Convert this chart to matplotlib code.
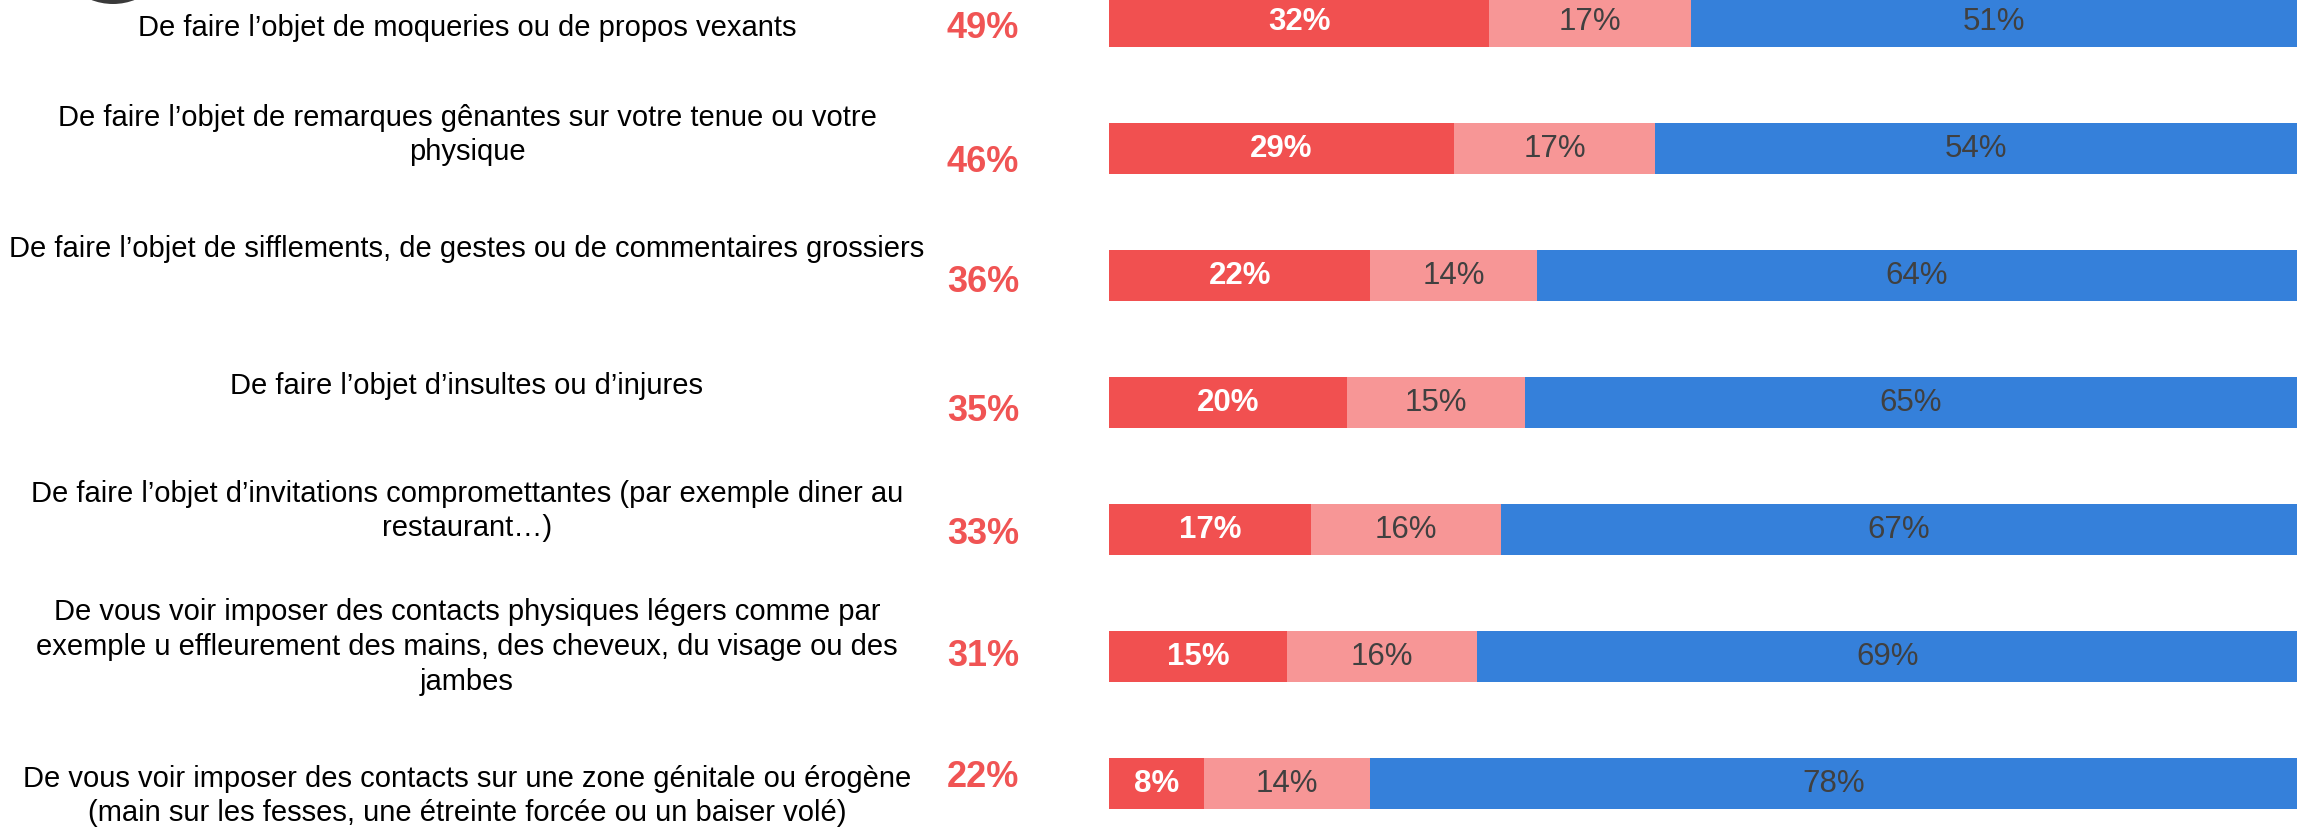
import matplotlib
matplotlib.use("Agg")
import matplotlib.pyplot as plt
from matplotlib.patches import Ellipse
import numpy as np

labels = [
    "De faire l’objet de moqueries ou de propos vexants",
    "De faire l’objet de remarques gênantes sur votre tenue ou votre\nphysique",
    "De faire l’objet de sifflements, de gestes ou de commentaires grossiers",
    "De faire l’objet d’insultes ou d’injures",
    "De faire l’objet d’invitations compromettantes (par exemple diner au\nrestaurant…)",
    "De vous voir imposer des contacts physiques légers comme par\nexemple u effleurement des mains, des cheveux, du visage ou des\njambes",
    "De vous voir imposer des contacts sur une zone génitale ou érogène\n(main sur les fesses, une étreinte forcée ou un baiser volé)",
]
total = [49, 46, 36, 35, 33, 31, 22]
often = [32, 29, 22, 20, 17, 15, 8]
sometimes = [17, 17, 14, 15, 16, 16, 14]
never = [51, 54, 64, 65, 67, 69, 78]

c_often = "#F15050"
c_some = "#F79696"
c_never = "#3580DA"
c_total = "#F05454"
c_text = "#404040"

# layout (pixels)
W, H = 2297, 829
x0 = 1109
row_h = 127
first_c = 22
# vertical nudges of the texts, in pixels, per row
lab_dy = [6.5, -14, -27, -17, -19, -10, 12]
tot_dy = [6, 13, 7, 9, 5, 0, -6]

fig = plt.figure(figsize=(W / 100, H / 100), dpi=100)
ax = fig.add_axes([x0 / W, 0, 1 - x0 / W, 1])
ax.set_xlim(0, 100)
ax.set_ylim((H - first_c) / row_h, -first_c / row_h)
ax.axis("off")

y = np.arange(len(labels))
bh = 51 / row_h
ax.barh(y, often, height=bh, color=c_often, linewidth=0)
ax.barh(y, sometimes, left=often, height=bh, color=c_some, linewidth=0)
left2 = np.array(often) + np.array(sometimes)
ax.barh(y, never, left=left2, height=bh, color=c_never, linewidth=0)

fnt = ["Liberation Sans", "DejaVu Sans"]
for i in range(len(labels)):
    ax.text(often[i] / 2, y[i], f"{often[i]}%", ha="center", va="center",
            color="white", fontsize=22.5, fontweight="bold", family=fnt)
    ax.text(often[i] + sometimes[i] / 2, y[i], f"{sometimes[i]}%", ha="center",
            va="center", color=c_text, fontsize=22.5, family=fnt)
    ax.text(left2[i] + never[i] / 2, y[i], f"{never[i]}%", ha="center",
            va="center", color=c_text, fontsize=22.5, family=fnt)

    xl = (467 - x0) / (W - x0) * 100
    ax.text(xl, y[i] + lab_dy[i] / row_h, labels[i], ha="center", va="center",
            multialignment="center", fontsize=21, color="black", family=fnt,
            linespacing=1.3, clip_on=False)
    xt = (983 - x0) / (W - x0) * 100
    ax.text(xt, y[i] + tot_dy[i] / row_h, f"{total[i]}%", ha="center",
            va="center", fontsize=26, fontweight="bold", color=c_total,
            family=fnt, clip_on=False)

# cut-off icon at the top left
r = 60
fig.patches.append(Ellipse((113 / W, 1 + (r - 5) / H), 2 * r / W, 2 * r / H,
                           transform=fig.transFigure,
                           facecolor="#3a3a3a", edgecolor="none"))

fig.savefig("out.png", dpi=100)
